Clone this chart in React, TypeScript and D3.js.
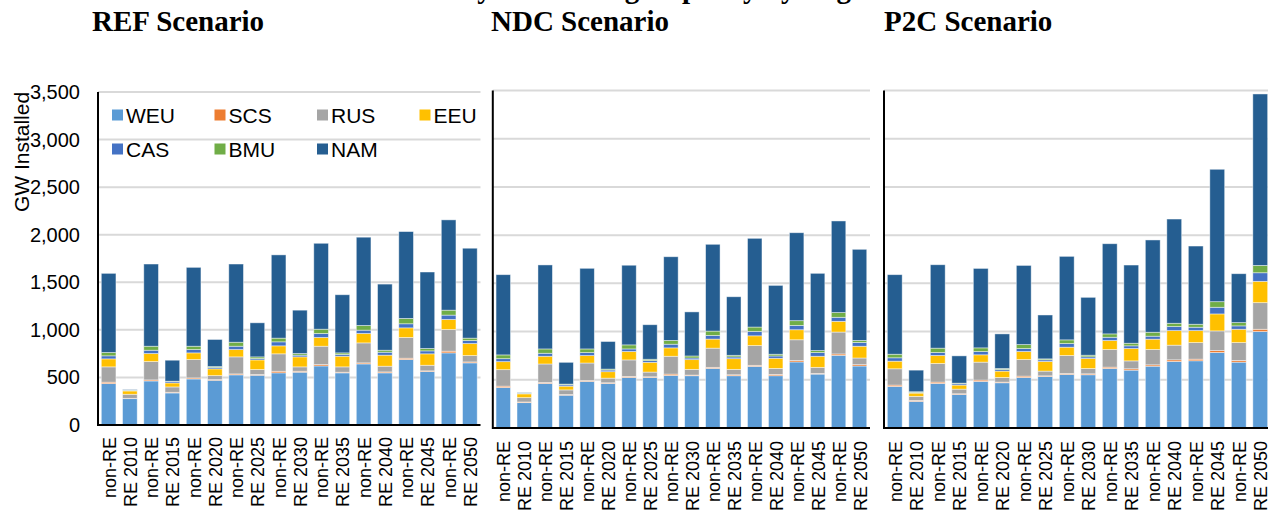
import React from "react";
import * as d3 from "d3";

// ---------- data ----------
const years = ["2010", "2015", "2020", "2025", "2030", "2035", "2040", "2045", "2050"];
const categories = years.flatMap((y) => ["non-RE", "RE " + y]);
const regions = ["WEU", "SCS", "RUS", "EEU", "CAS", "BMU", "NAM"];
const yTicks = [0, 500, 1000, 1500, 2000, 2500, 3000, 3500];

// REF scenario (GW installed), one value per category
const refWEU = [435, 277, 463, 337, 484, 470, 527, 523, 548, 555, 621, 548, 642, 548, 688, 562, 758, 653];
const refSCS = [15, 3, 11, 7, 11, 7, 10, 7, 17, 10, 14, 7, 11, 10, 14, 7, 18, 10];
const refRUS = [161, 43, 193, 56, 193, 42, 179, 53, 183, 46, 193, 56, 210, 60, 218, 59, 228, 67];
const refEEU = [84, 35, 84, 42, 70, 71, 77, 101, 84, 105, 92, 112, 99, 116, 101, 120, 105, 126];
const refCAS = [32, 7, 35, 14, 35, 14, 35, 14, 42, 18, 42, 18, 35, 31, 43, 31, 46, 32];
const refBMU = [35, 3, 42, 4, 35, 10, 42, 18, 39, 17, 45, 17, 49, 21, 56, 25, 52, 25];
const refNAM = [832, 4, 864, 221, 829, 285, 822, 358, 875, 456, 903, 611, 928, 695, 913, 804, 949, 945];

// NDC scenario
const ndcWEU = [420, 263, 462, 340, 483, 462, 524, 524, 545, 542, 618, 542, 639, 542, 685, 559, 754, 643];
const ndcSCS = [14, 7, 10, 7, 10, 7, 11, 7, 14, 7, 11, 10, 11, 14, 14, 7, 14, 14];
const ndcRUS = [171, 45, 192, 48, 181, 48, 171, 49, 185, 59, 199, 56, 205, 62, 216, 63, 227, 69];
const ndcEEU = [83, 39, 80, 39, 77, 67, 87, 101, 87, 101, 94, 111, 101, 105, 104, 115, 111, 122];
const ndcCAS = [31, 7, 31, 14, 31, 17, 27, 18, 38, 17, 38, 18, 46, 24, 45, 38, 42, 39];
const ndcBMU = [39, 3, 45, 7, 38, 10, 42, 14, 39, 21, 45, 17, 45, 18, 49, 21, 49, 21];
const ndcNAM = [832, 3, 871, 226, 836, 286, 826, 358, 868, 457, 900, 607, 920, 714, 912, 801, 950, 945];

// P2C scenario
const p2cWEU = [431, 276, 462, 348, 483, 469, 524, 534, 555, 552, 617, 600, 641, 690, 697, 783, 683, 1000];
const p2cSCS = [14, 10, 14, 7, 14, 7, 14, 7, 10, 10, 14, 14, 14, 17, 17, 20, 17, 24];
const p2cRUS = [169, 42, 193, 48, 186, 48, 172, 49, 187, 55, 183, 82, 159, 152, 172, 204, 186, 276];
const p2cEEU = [79, 34, 83, 42, 76, 66, 83, 100, 86, 104, 93, 128, 107, 151, 124, 176, 138, 221];
const p2cCAS = [35, 7, 31, 14, 34, 17, 31, 17, 38, 17, 34, 28, 31, 42, 35, 69, 35, 89];
const p2cBMU = [37, 7, 45, 6, 38, 10, 41, 10, 38, 17, 35, 27, 41, 34, 31, 58, 34, 76];
const p2cNAM = [825, 224, 865, 283, 824, 359, 821, 455, 866, 600, 935, 811, 957, 1081, 811, 1373, 507, 1778];

const regionColors = ["#5B9BD5", "#ED7D31", "#A5A5A5", "#FFC000", "#4472C4", "#70AD47", "#255E91"];

const scenarios = [
  { title: "REF Scenario", series: [refWEU, refSCS, refRUS, refEEU, refCAS, refBMU, refNAM] },
  { title: "NDC Scenario", series: [ndcWEU, ndcSCS, ndcRUS, ndcEEU, ndcCAS, ndcBMU, ndcNAM] },
  { title: "P2C Scenario", series: [p2cWEU, p2cSCS, p2cRUS, p2cEEU, p2cCAS, p2cBMU, p2cNAM] },
];

// ---------- layout ----------
const W = 1268;
const H = 513;
const layout = [
  { titleX: 92, left: 98, right: 480.5, y0: 425, yTop: 92, labelGap: 12, first: true },
  { titleX: 491, left: 492.8, right: 870, y0: 428, yTop: 90.5, labelGap: 13, first: false },
  { titleX: 884, left: 884, right: 1271, y0: 428, yTop: 90.5, labelGap: 13, first: false },
];

const sans = "'Liberation Sans', Arial, sans-serif";
const serif = "'Liberation Serif', 'Times New Roman', serif";

function Panel({ sc, lay }: { sc: any; lay: any }) {
  const x = d3
    .scaleBand<number>()
    .domain(d3.range(categories.length))
    .range([lay.left, lay.right])
    .paddingInner(0.31)
    .paddingOuter(0.155);
  const y = d3.scaleLinear().domain([0, 3500]).range([lay.y0, lay.yTop]);
  const rows = categories.map((c, i) => {
    const r: any = { i };
    regions.forEach((reg, k) => (r[reg] = sc.series[k][i]));
    return r;
  });
  const stacked = d3.stack<any>().keys(regions)(rows);

  return (
    <g>
      <text x={lay.titleX} y={31} fontFamily={serif} fontWeight="bold" fontSize={29} fill="#000">
        {sc.title}
      </text>
      {yTicks.slice(1).map((t) => (
        <line key={t} x1={lay.left} x2={lay.right} y1={y(t)} y2={y(t)} stroke="#D9D9D9" strokeWidth={2} />
      ))}
      {lay.first &&
        yTicks.map((t) => (
          <text
            key={"t" + t}
            x={80}
            y={y(t)}
            textAnchor="end"
            dominantBaseline="central"
            fontFamily={sans}
            fontSize={20}
            fill="#000"
          >
            {d3.format(",")(t)}
          </text>
        ))}
      {stacked.map((s, k) => (
        <g key={regions[k]} fill={regionColors[k]}>
          {s.map((d, i) => (
            <rect
              key={i}
              x={x(i)}
              width={x.bandwidth()}
              y={y(d[1])}
              height={Math.max(0, y(d[0]) - y(d[1]))}
              stroke="#FFFFFF"
              strokeOpacity={0.55}
              strokeWidth={0.8}
            />
          ))}
        </g>
      ))}
      <line x1={lay.left} x2={lay.left} y1={lay.yTop} y2={lay.y0 + 1} stroke="#000" strokeWidth={2} />
      <line x1={lay.left} x2={lay.right} y1={lay.y0} y2={lay.y0} stroke="#000" strokeWidth={2} />
      {categories.map((c, i) => {
        const cx = (x(i) as number) + x.bandwidth() / 2 + 1;
        const cy = lay.y0 + lay.labelGap;
        return (
          <text
            key={"c" + i}
            transform={`translate(${cx},${cy}) rotate(-90)`}
            textAnchor="end"
            dominantBaseline="central"
            fontFamily={sans}
            fontSize={18}
            fill="#000"
          >
            {c}
          </text>
        );
      })}
      {lay.first && (
        <g>
          {regions.map((reg, k) => {
            const col = k % 4;
            const row = Math.floor(k / 4);
            const lx = 112 + col * 102.5;
            const ly = 115 + row * 34;
            return (
              <g key={"l" + reg}>
                <rect x={lx} y={ly - 5.5} width={11} height={11} fill={regionColors[k]} />
                <text x={lx + 14} y={ly} dominantBaseline="central" fontFamily={sans} fontSize={21} fill="#000">
                  {reg}
                </text>
              </g>
            );
          })}
          <text
            transform="translate(21,152) rotate(-90)"
            textAnchor="middle"
            dominantBaseline="central"
            fontFamily={sans}
            fontSize={21}
            fill="#000"
          >
            GW Installed
          </text>
        </g>
      )}
    </g>
  );
}

export default function App() {
  return (
    <svg
      width={W}
      height={H}
      viewBox={`0 0 ${W} ${H}`}
      style={{ position: "absolute", left: 0, top: 0, background: "#fff" }}
    >
      <rect x={0} y={0} width={W} height={H} fill="#fff" />
      <text x={363} y={-2} fontFamily={serif} fontWeight="bold" fontSize={29} fill="#000">
        Electricity Generating Capacity by Region
      </text>
      {scenarios.map((sc, i) => (
        <Panel key={sc.title} sc={sc} lay={layout[i]} />
      ))}
    </svg>
  );
}
